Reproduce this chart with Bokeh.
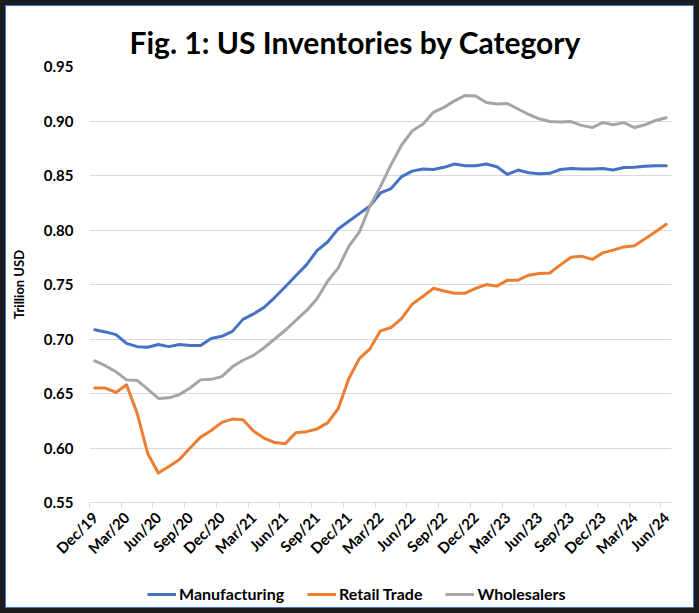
import numpy as np
from bokeh.plotting import figure
from bokeh.models import (Range1d, FixedTicker, Legend, LegendItem,
                          PrintfTickFormatter, ColumnDataSource)
from bokeh.layouts import column
from bokeh.embed import file_html
from bokeh.resources import INLINE

# Monthly inventories, trillion USD, Dec 2019 through Jun 2024
tick_labels = ["Dec/19", "Mar/20", "Jun/20", "Sep/20", "Dec/20", "Mar/21",
               "Jun/21", "Sep/21", "Dec/21", "Mar/22", "Jun/22", "Sep/22",
               "Dec/22", "Mar/23", "Jun/23", "Sep/23", "Dec/23", "Mar/24",
               "Jun/24"]

manufacturing = [
    0.7085, 0.7065, 0.704, 0.696, 0.693, 0.6925, 0.695, 0.693, 0.695, 0.694,
    0.694, 0.7005, 0.7025, 0.707, 0.718, 0.723, 0.729, 0.738, 0.748, 0.758,
    0.768, 0.781, 0.789, 0.801, 0.808, 0.815, 0.822, 0.834, 0.838, 0.849,
    0.854, 0.856, 0.8555, 0.8575, 0.8605, 0.859, 0.859, 0.8605, 0.858, 0.851,
    0.855, 0.8525, 0.8515, 0.852, 0.8555, 0.8565, 0.856, 0.856, 0.8565, 0.855,
    0.8573, 0.8576, 0.8585, 0.859, 0.859,
]
retail_trade = [
    0.655, 0.655, 0.651, 0.658, 0.632, 0.595, 0.577, 0.583, 0.5895, 0.600,
    0.610, 0.616, 0.6235, 0.6265, 0.626, 0.6155, 0.609, 0.605, 0.604, 0.614,
    0.615, 0.6175, 0.623, 0.636, 0.6635, 0.682, 0.691, 0.7075, 0.7105, 0.719,
    0.732, 0.739, 0.7465, 0.744, 0.742, 0.742, 0.7465, 0.750, 0.7485, 0.754,
    0.754, 0.7585, 0.760, 0.7605, 0.768, 0.775, 0.776, 0.773, 0.779, 0.7815,
    0.7845, 0.7855, 0.792, 0.7985, 0.8052,
]
wholesalers = [
    0.680, 0.6755, 0.670, 0.6625, 0.662, 0.654, 0.6455, 0.646, 0.649, 0.655,
    0.6625, 0.663, 0.6655, 0.6745, 0.6805, 0.685, 0.692, 0.700, 0.708, 0.717,
    0.726, 0.737, 0.753, 0.765, 0.785, 0.798, 0.822, 0.840, 0.860, 0.878,
    0.891, 0.897, 0.908, 0.9125, 0.9185, 0.9235, 0.923, 0.917, 0.9155, 0.916,
    0.911, 0.906, 0.902, 0.8995, 0.899, 0.8995, 0.896, 0.894, 0.8985, 0.8965,
    0.8985, 0.894, 0.8965, 0.9005, 0.903,
]

series_names = ["Manufacturing", "Retail Trade", "Wholesalers"]
series_colors = ["#4472C4", "#ED7D31", "#A5A5A5"]
series_cols = ["m", "r", "w"]

n = len(manufacturing)
src = ColumnDataSource(dict(x=np.arange(n), m=manufacturing,
                            r=retail_trade, w=wholesalers))

FONT = "Lato"
W = 687

# ---- main chart -------------------------------------------------------
p = figure(width=W, height=571,
           x_range=Range1d(-0.5, n - 0.5), y_range=Range1d(0.55, 0.95),
           output_backend="svg", toolbar_location=None,
           min_border_left=83, min_border_right=22,
           min_border_top=60, min_border_bottom=75,
           title="Fig. 1: US Inventories by Category")
p.background_fill_color = "white"
p.border_fill_color = "white"
p.outline_line_color = None

p.title.align = "left"
p.title.offset = 40
p.title.standoff = 14
p.title.text_font = FONT
p.title.text_font_size = "30px"
p.title.text_font_style = "bold"
p.title.text_color = "black"

# category axis: labels on every third month, tick marks between categories
label_pos = list(range(0, n, 3))
p.xaxis.ticker = FixedTicker(ticks=label_pos,
                             minor_ticks=[t - 0.5 for t in label_pos])
p.xaxis.major_label_overrides = {t: lab for t, lab in zip(label_pos, tick_labels)}
p.xaxis.major_label_orientation = np.pi / 4
p.xaxis.major_label_text_font = FONT
p.xaxis.major_label_text_font_size = "15px"
p.xaxis.major_label_text_font_style = "bold"
p.xaxis.major_label_text_color = "black"
p.xaxis.major_label_standoff = 6
p.xaxis.major_tick_line_color = None
p.xaxis.minor_tick_line_color = "#D9D9D9"
p.xaxis.minor_tick_in = 0
p.xaxis.minor_tick_out = 5
p.xaxis.axis_line_color = "#D9D9D9"
p.xgrid.grid_line_color = None

p.yaxis.ticker = FixedTicker(ticks=[0.55, 0.60, 0.65, 0.70, 0.75, 0.80, 0.85, 0.90, 0.95])
p.yaxis.formatter = PrintfTickFormatter(format="%.2f")
p.yaxis.major_label_text_font = FONT
p.yaxis.major_label_text_font_size = "15px"
p.yaxis.major_label_text_font_style = "bold"
p.yaxis.major_label_text_color = "black"
p.yaxis.major_label_standoff = 10
p.yaxis.axis_line_color = None
p.yaxis.major_tick_line_color = None
p.yaxis.minor_tick_line_color = None
p.yaxis.axis_label = "Trillion USD"
p.yaxis.axis_label_text_font = FONT
p.yaxis.axis_label_text_font_size = "13px"
p.yaxis.axis_label_text_font_style = "bold"
p.yaxis.axis_label_text_color = "black"
p.yaxis.axis_label_standoff = 14
p.ygrid.grid_line_color = "#D9D9D9"
p.ygrid.grid_line_width = 1

for col, color in zip(series_cols, series_colors):
    p.line("x", col, source=src, line_color=color,
           line_width=3, line_join="round", line_cap="round")

# ---- legend strip under the chart --------------------------------------
leg = figure(width=W, height=30, x_range=Range1d(-0.5, n - 0.5),
             y_range=Range1d(0, 0.1), output_backend="svg",
             toolbar_location=None, min_border=0)
leg.axis.visible = False
leg.grid.grid_line_color = None
leg.outline_line_color = None
leg.background_fill_color = "white"
leg.border_fill_color = "white"

leg_renderers = [leg.line("x", col, source=src, line_color=color, line_width=3)
                 for col, color in zip(series_cols, series_colors)]

legend = Legend(items=[LegendItem(label=nm, renderers=[r])
                       for nm, r in zip(series_names, leg_renderers)],
                orientation="horizontal", location=(58, 4))
legend.label_text_font = FONT
legend.label_text_font_size = "16px"
legend.label_text_font_style = "bold"
legend.label_text_color = "black"
legend.glyph_width = 29
legend.glyph_height = 16
legend.label_height = 16
legend.label_standoff = 3
legend.spacing = 23
legend.padding = 0
legend.margin = 0
legend.border_line_color = None
legend.background_fill_alpha = 0
leg.add_layout(legend)

chart = column(p, leg, width=W, height=601, spacing=0,
               styles={"background-color": "white",
                       "box-shadow": "0 0 0 1px #4472C4"})
root = column(chart, styles={"background-color": "#1c1c1c", "padding": "6px"})

open("out.html", "w").write(file_html(root, INLINE))
